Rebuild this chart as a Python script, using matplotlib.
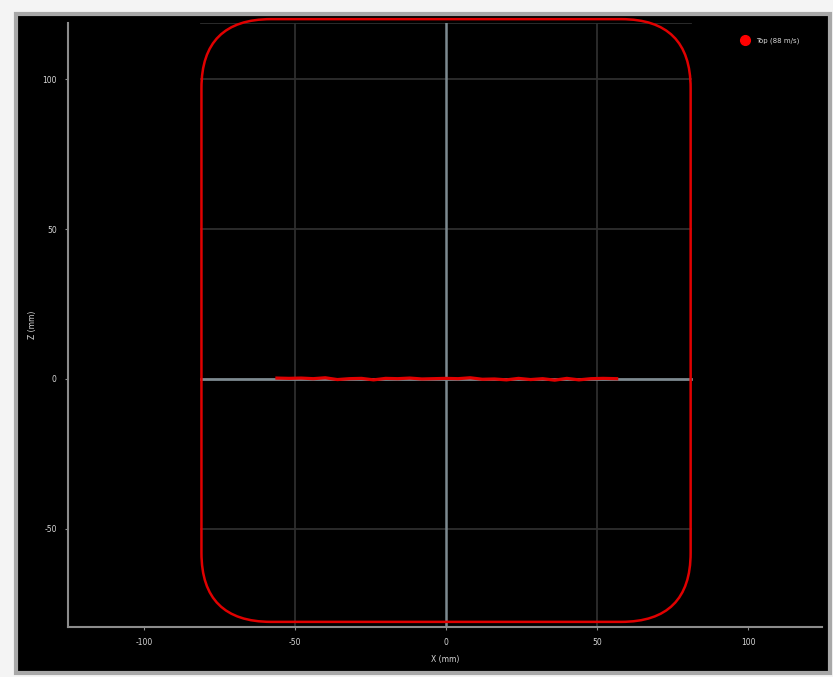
import matplotlib
matplotlib.use("Agg")
import matplotlib.pyplot as plt
from matplotlib.patches import FancyBboxPatch, Rectangle
from matplotlib.lines import Line2D

plt.rcParams["axes.unicode_minus"] = False

# Measured profile of the top pass (X in mm, Z in mm)
profile_x = [-56, -52, -48, -44, -40, -36, -32, -28, -24, -20, -16, -12, -8, -4, 0,
             4, 8, 12, 16, 20, 24, 28, 32, 36, 40, 44, 48, 52, 56.5]
profile_z = [0.3, 0.2, 0.3, 0.1, 0.4, -0.2, 0.1, 0.2, -0.3, 0.2, 0.1, 0.3, 0.0, 0.1, 0.2,
             0.1, 0.4, -0.1, 0.0, -0.3, 0.2, -0.2, 0.1, -0.4, 0.2, -0.3, 0.1, 0.2, 0.1]
series_label = "Top (88 m/s)"

# Chamber outline (mm) and corner radius
chamber_x = [-81, 81]
chamber_z = [-81, 120]
corner_radius = 23

x_ticks = [-100, -50, 0, 50, 100]
z_ticks = [-50, 0, 50, 100]
x_limits = (-125.2, 124.5)
z_limits = (-82.7, 118.7)

fig = plt.figure(figsize=(8.33, 6.77), dpi=100, facecolor="#f4f4f4")

# Dark panel with grey frame
panel = Rectangle((0.0192, 0.0059), 0.9772, 0.9731, transform=fig.transFigure,
                  facecolor="black", edgecolor="#a8a8a8", linewidth=3, zorder=-10)
fig.patches.append(panel)

ax = fig.add_axes([0.0816, 0.0739, 0.9052, 0.8921])
ax.set_zorder(1)
ax.set_facecolor("black")
ax.set_xlim(*x_limits)
ax.set_ylim(*z_limits)

for side in ("top", "right"):
    ax.spines[side].set_visible(False)
for side in ("left", "bottom"):
    ax.spines[side].set_color("#8c8c8c")
    ax.spines[side].set_linewidth(1.5)

ax.set_xticks(x_ticks)
ax.set_yticks(z_ticks)
ax.tick_params(colors="#8c8c8c", labelcolor="#d8d8d8", labelsize=5.5,
               length=2, width=0.8, pad=6)
ax.set_xlabel("X (mm)", color="#d8d8d8", fontsize=5.5, labelpad=6)
ax.set_ylabel("Z (mm)", color="#d8d8d8", fontsize=5.5, labelpad=4)

# Grid lines
grid_color = "#2e2e2e"
for gx in [-50, 50]:
    ax.plot([gx, gx], [z_limits[0], z_limits[1]], color=grid_color, lw=1.3, zorder=1)
for gz in [-50, 50, 100, z_limits[1]]:
    ax.plot(chamber_x, [gz, gz], color=grid_color, lw=1.3, zorder=1)
ax.plot([0, 0], [z_limits[0], z_limits[1]], color="#7d8a90", lw=1.8, zorder=2)
ax.plot(chamber_x, [0, 0], color="#7d8a90", lw=2.0, zorder=2)

# Chamber outline
outline = FancyBboxPatch((chamber_x[0], chamber_z[0]),
                         chamber_x[1] - chamber_x[0], chamber_z[1] - chamber_z[0],
                         boxstyle=f"round,pad=0,rounding_size={corner_radius}",
                         facecolor="none", edgecolor="#e00000", linewidth=1.8,
                         clip_on=False, zorder=3)
ax.add_patch(outline)

# Profile
ax.plot(profile_x, profile_z, color="#e00000", lw=2.3, zorder=4)

handle = Line2D([], [], marker="o", ls="none", color="#ff0000",
                markersize=7, label=series_label)
leg = ax.legend(handles=[handle], loc="center left", bbox_to_anchor=(0.885, 0.970),
                frameon=False, fontsize=5, labelcolor="#d8d8d8",
                handletextpad=0.6, borderaxespad=0)

fig.savefig("out.png", dpi=100, facecolor=fig.get_facecolor())
